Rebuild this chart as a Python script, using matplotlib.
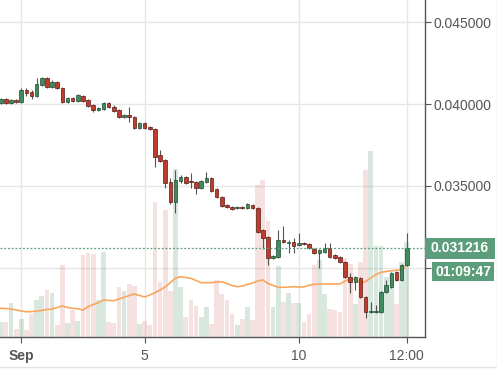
import numpy as np
import matplotlib.pyplot as plt
import matplotlib.transforms as mtransforms
from matplotlib.patches import Rectangle

# 4h candles
opens = [0.04004, 0.04031, 0.04004, 0.04025, 0.04010, 0.04086, 0.04072, 0.04049, 0.04116, 0.04161,
         0.04106, 0.04133, 0.04100, 0.04010, 0.04039, 0.04020, 0.04049, 0.04025, 0.03994, 0.03963,
         0.03968, 0.04004, 0.03980, 0.03963, 0.03922, 0.03933, 0.03922, 0.03851, 0.03886, 0.03858,
         0.03847, 0.03688, 0.03658, 0.03525, 0.03403, 0.03531, 0.03552, 0.03526, 0.03525, 0.03484,
         0.03525, 0.03546, 0.03478, 0.03429, 0.03382, 0.03372, 0.03362, 0.03372, 0.03362, 0.03382,
         0.03366, 0.03229, 0.03185, 0.03056, 0.03062, 0.03168, 0.03148, 0.03158, 0.03138, 0.03152,
         0.03144, 0.03113, 0.03087, 0.03093, 0.03118, 0.03077, 0.03066, 0.03036, 0.02944, 0.02913,
         0.02934, 0.02822, 0.02730, 0.02730, 0.02726, 0.02848, 0.02883, 0.02974, 0.02924, 0.03015]
highs = [0.04035, 0.04037, 0.04032, 0.04031, 0.04098, 0.04096, 0.04086, 0.04157, 0.04167, 0.04167,
         0.04147, 0.04139, 0.04106, 0.04045, 0.04045, 0.04059, 0.04055, 0.04031, 0.04000, 0.03980,
         0.04010, 0.04010, 0.03994, 0.03969, 0.03939, 0.03980, 0.03928, 0.03888, 0.03892, 0.03864,
         0.03853, 0.03719, 0.03664, 0.03547, 0.03596, 0.03566, 0.03558, 0.03576, 0.03531, 0.03537,
         0.03586, 0.03552, 0.03484, 0.03435, 0.03388, 0.03378, 0.03378, 0.03378, 0.03394, 0.03388,
         0.03372, 0.03235, 0.03191, 0.03076, 0.03229, 0.03256, 0.03170, 0.03178, 0.03213, 0.03158,
         0.03150, 0.03119, 0.03113, 0.03148, 0.03148, 0.03083, 0.03072, 0.03042, 0.02965, 0.02950,
         0.02940, 0.02828, 0.02791, 0.02771, 0.02858, 0.02924, 0.02971, 0.02980, 0.03021, 0.03209]
lows = [0.03998, 0.03998, 0.03998, 0.04004, 0.04004, 0.04051, 0.04029, 0.04043, 0.04110, 0.04100,
        0.04096, 0.04090, 0.04004, 0.04004, 0.04012, 0.04014, 0.04014, 0.03982, 0.03949, 0.03957,
        0.03962, 0.03978, 0.03951, 0.03916, 0.03916, 0.03892, 0.03845, 0.03845, 0.03849, 0.03839,
        0.03617, 0.03647, 0.03486, 0.03388, 0.03332, 0.03517, 0.03513, 0.03484, 0.03450, 0.03478,
        0.03519, 0.03464, 0.03423, 0.03372, 0.03362, 0.03352, 0.03356, 0.03356, 0.03356, 0.03356,
        0.03213, 0.03113, 0.03015, 0.03050, 0.03056, 0.03152, 0.03091, 0.03091, 0.03132, 0.03136,
        0.03115, 0.03081, 0.02997, 0.03087, 0.03060, 0.03050, 0.03026, 0.02938, 0.02842, 0.02862,
        0.02816, 0.02689, 0.02724, 0.02724, 0.02720, 0.02842, 0.02877, 0.02918, 0.02918, 0.03009]
closes = [0.04029, 0.04004, 0.04026, 0.04010, 0.04086, 0.04065, 0.04051, 0.04121, 0.04161, 0.04106,
          0.04133, 0.04096, 0.04010, 0.04039, 0.04018, 0.04053, 0.04020, 0.03988, 0.03963, 0.03974,
          0.04004, 0.03984, 0.03957, 0.03922, 0.03933, 0.03922, 0.03851, 0.03882, 0.03855, 0.03845,
          0.03674, 0.03653, 0.03515, 0.03403, 0.03535, 0.03552, 0.03519, 0.03525, 0.03484, 0.03531,
          0.03546, 0.03470, 0.03429, 0.03378, 0.03368, 0.03358, 0.03372, 0.03362, 0.03388, 0.03362,
          0.03219, 0.03179, 0.03056, 0.03070, 0.03168, 0.03158, 0.03158, 0.03132, 0.03152, 0.03142,
          0.03121, 0.03087, 0.03107, 0.03118, 0.03066, 0.03056, 0.03032, 0.02944, 0.02913, 0.02944,
          0.02822, 0.02730, 0.02731, 0.02731, 0.02852, 0.02893, 0.02965, 0.02924, 0.03015, 0.031216]

# volume (thousands) and its moving average
volumes = [15, 15, 34, 8, 18, 7, 23, 37, 41, 47,
           44, 12, 72, 14, 27, 16, 82, 84, 83, 37,
           85, 15, 14, 50, 46, 53, 51, 13, 16, 12,
           135, 55, 127, 46, 168, 50, 20, 37, 31, 20,
           30, 13, 57, 43, 37, 23, 12, 18, 30, 17,
           152, 157, 116, 30, 71, 35, 44, 34, 34, 15,
           23, 72, 77, 43, 28, 27, 25, 79, 73, 33,
           75, 167, 186, 91, 91, 60, 63, 33, 75, 95]
volume_ma = [28.4, 28.2, 27.7, 26.7, 25.7, 25.0, 25.0, 25.7, 26.2, 27.2,
             27.7, 29.2, 30.7, 29.2, 28.4, 28.0, 26.7, 30.0, 32.2, 34.0,
             36.7, 36.2, 36.0, 37.7, 39.4, 41.2, 42.7, 41.2, 39.7, 41.7,
             44.0, 46.7, 49.7, 54.0, 58.4, 60.0, 59.2, 58.4, 56.2, 54.0,
             54.0, 54.0, 54.7, 55.0, 53.2, 51.2, 50.0, 50.7, 52.2, 53.7,
             55.7, 56.7, 53.2, 51.2, 49.4, 49.4, 49.7, 50.0, 49.7, 49.7,
             51.5, 52.4, 52.7, 52.7, 52.7, 52.7, 52.7, 55.7, 57.7, 57.2,
             54.0, 55.2, 58.7, 62.2, 64.4, 65.2, 65.9, 66.4, 67.4, 71.7]

tick_pos = [4, 28, 58, 79]
tick_labels = ['Sep', '5', '10', '12:00']
price_ticks = [0.030, 0.035, 0.040, 0.045]
price_labels = ['', '0.035000', '0.040000', '0.045000']  # 0.030000 sits under the countdown box
last_price = 0.031216
countdown = '01:09:47'

UP = '#3f8b5e'
DOWN = '#bf3b2c'
UP_EDGE = '#1f4a30'
DOWN_EDGE = '#5a1c14'
LABEL_BG = '#5c9e7b'
TXT = '#555555'

plt.rcParams['font.family'] = ['Liberation Sans', 'DejaVu Sans']
plt.rcParams['font.size'] = 10

W, H = 497, 369
fig = plt.figure(figsize=(W / 100, H / 100), dpi=100)
ax_vol = fig.add_axes([0, 1 - 336.7 / H, 425 / W, 336.7 / H])
ax = ax_vol.twinx()
ax.set_zorder(ax_vol.get_zorder() + 1)
ax.patch.set_visible(False)

x = np.arange(len(closes))
o = np.array(opens)
c = np.array(closes)
up = c >= o

# grid (bottom layer)
ax_vol.set_xticks(tick_pos, tick_labels)
ax_vol.grid(axis='x', color='#e6e6e6', lw=1)
ax_vol.set_axisbelow(True)
blend = mtransforms.blended_transform_factory(ax_vol.transAxes, ax.transData)
for p in price_ticks:
    ax_vol.plot([0, 1], [p, p], transform=blend, color='#e6e6e6', lw=1, zorder=0)

# volume
vol_colors = [(0.25, 0.55, 0.37, 0.2) if u else (0.75, 0.23, 0.17, 0.15) for u in up]
ax_vol.bar(x, volumes, width=0.92, color=vol_colors, zorder=1)
ax_vol.plot(x, volume_ma, color='#f9a65f', lw=1.2, zorder=2)
ax_vol.set_ylim(0, 336.7)
ax_vol.set_yticks([])
for s in ax_vol.spines.values():
    s.set_visible(False)
ax_vol.tick_params(axis='x', length=4, color=TXT, labelcolor=TXT, pad=4.5, labelsize=10)
ax_vol.get_xticklabels()[0].set_fontweight('bold')

# candles
ax.vlines(x, lows, highs, color='#555555', lw=0.8, zorder=2)
bottoms = np.minimum(o, c)
heights = np.maximum(np.abs(c - o), 0.000012)
ax.bar(x, heights, bottom=bottoms, width=0.7,
       color=[UP if u else DOWN for u in up],
       edgecolor=[UP_EDGE if u else DOWN_EDGE for u in up], lw=0.5, zorder=3)

ax.axhline(last_price, color=LABEL_BG, lw=0.9, ls=(0, (1.5, 1.5)), zorder=4)

ax.set_xlim(-0.14, 82.55)
ax.set_ylim(0.025768, 0.046361)
ax.set_yticks(price_ticks)
ax.set_yticklabels(price_labels)
ax.tick_params(axis='y', length=4.3, color=TXT, labelcolor=TXT, pad=1.5, labelsize=10)
for side in ['left', 'top']:
    ax.spines[side].set_visible(False)
for side in ['right', 'bottom']:
    ax.spines[side].set_color(TXT)
    ax.spines[side].set_linewidth(1)


def px_label(x0, y0, x1, y1, text):
    fig.add_artist(Rectangle((x0 / W, 1 - y1 / H), (x1 - x0) / W, (y1 - y0) / H,
                             transform=fig.transFigure, facecolor=LABEL_BG,
                             edgecolor='none', zorder=10))
    fig.text((x0 + x1) / 2 / W, 1 - (y0 + y1) / 2 / H, text, color='white',
             fontsize=10, fontweight='bold', ha='center', va='center', zorder=11)


px_label(425, 238, 495, 259, '%.6f' % last_price)
px_label(432, 262, 494, 281, countdown)

# faint outer frame lines
fig.add_artist(plt.Line2D([0, 1], [1 - 366.5 / H] * 2, transform=fig.transFigure,
                          color='#e4e4e4', lw=1))
fig.add_artist(plt.Line2D([496.5 / W] * 2, [1 - 366.5 / H, 1], transform=fig.transFigure,
                          color='#e4e4e4', lw=1))

fig.savefig('out.png', dpi=100)
